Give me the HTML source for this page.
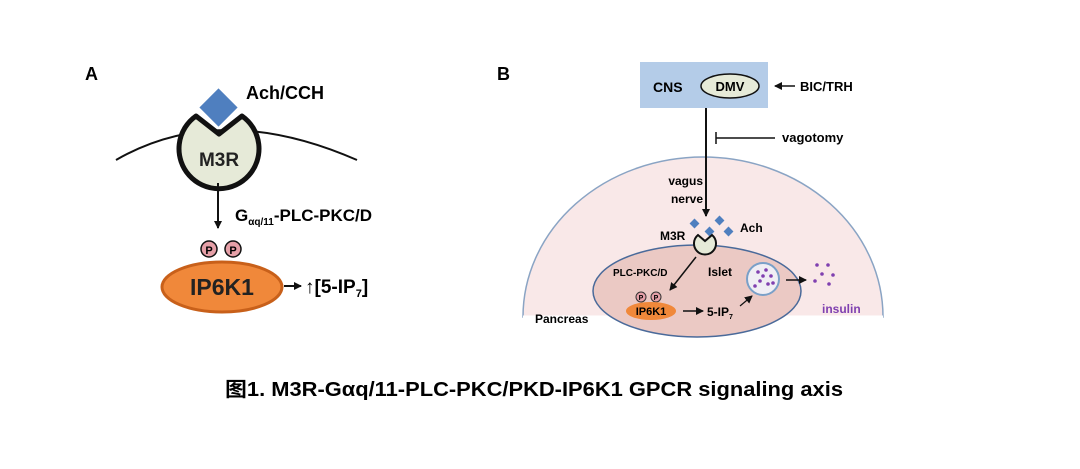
<!DOCTYPE html>
<html><head><meta charset="utf-8"><style>
html,body{margin:0;padding:0;background:#fff}
svg{display:block}
text{font-family:"Liberation Sans","Noto Sans CJK SC",sans-serif;font-weight:bold}
</style></head><body>
<svg width="1080" height="469" viewBox="0 0 1080 469" xmlns="http://www.w3.org/2000/svg">
<defs>
<marker id="ar" markerWidth="8" markerHeight="8" refX="7" refY="4" orient="auto" markerUnits="userSpaceOnUse"><path d="M0,0 L8,4 L0,8 z" fill="#111"/></marker>
</defs>
<!-- Panel A -->
<text x="85" y="80" font-size="18">A</text>
<path d="M116,160 Q220,100 357,160" fill="none" stroke="#111" stroke-width="2"/>
<path d="M196,116 A40,40 0 1 0 242,116 L219,134 Z" fill="#e6ead8" stroke="#111" stroke-width="5" stroke-linejoin="round"/>
<rect x="205" y="94" width="27" height="27" fill="#4f7fbf" transform="rotate(45 218.5 107.5)"/>
<text x="219" y="166" font-size="19" text-anchor="middle" fill="#222">M3R</text>
<text x="246" y="99" font-size="18">Ach/CCH</text>
<line x1="218" y1="183" x2="218" y2="228" stroke="#111" stroke-width="2" marker-end="url(#ar)"/>
<text x="235" y="221" font-size="17">G<tspan font-size="10" dy="4">αq/11</tspan><tspan dy="-4">-PLC-PKC/D</tspan></text>
<ellipse cx="222" cy="287" rx="60" ry="25" fill="#f0883a" stroke="#c8601a" stroke-width="3"/>
<circle cx="209" cy="249" r="8" fill="#e6a0a8" stroke="#111" stroke-width="1.5"/>
<circle cx="233" cy="249" r="8" fill="#e6a0a8" stroke="#111" stroke-width="1.5"/>
<text x="209" y="254" font-size="11" text-anchor="middle">P</text>
<text x="233" y="254" font-size="11" text-anchor="middle">P</text>
<text x="222" y="295" font-size="23" text-anchor="middle" fill="#222">IP6K1</text>
<line x1="284" y1="286" x2="301" y2="286" stroke="#111" stroke-width="2" marker-end="url(#ar)"/>
<text x="305" y="293" font-size="19">↑[5-IP<tspan font-size="11" dy="4">7</tspan><tspan dy="-4">]</tspan></text>
<!-- Panel B -->
<text x="497" y="80" font-size="18">B</text>
<path d="M523,317 A180,160 0 0 1 883,317 Z" fill="#f9e8e8" stroke="#8aa4c4" stroke-width="1.5"/>
<line x1="523" y1="317" x2="883" y2="317" stroke="#fff" stroke-width="3"/>
<rect x="640" y="62" width="128" height="46" fill="#b4cce8"/>
<text x="653" y="92" font-size="14">CNS</text>
<ellipse cx="730" cy="86" rx="29" ry="12" fill="#e6ead8" stroke="#111" stroke-width="1.5"/>
<text x="730" y="91" font-size="13" text-anchor="middle">DMV</text>
<line x1="795" y1="86" x2="775" y2="86" stroke="#111" stroke-width="1.5" marker-end="url(#ar)"/>
<text x="800" y="91" font-size="13">BIC/TRH</text>
<line x1="716" y1="138" x2="775" y2="138" stroke="#111" stroke-width="1.5"/>
<line x1="716" y1="132" x2="716" y2="144" stroke="#111" stroke-width="1.5"/>
<text x="782" y="142" font-size="13">vagotomy</text>
<ellipse cx="697" cy="291" rx="104" ry="46" fill="#ebc9c4" stroke="#4a6a9a" stroke-width="1.5"/>
<line x1="706" y1="108" x2="706" y2="216" stroke="#111" stroke-width="2" marker-end="url(#ar)"/>
<text x="703" y="185" font-size="12" text-anchor="end">vagus</text>
<text x="703" y="203" font-size="12" text-anchor="end">nerve</text>
<g fill="#4f7fbf">
<rect x="691" y="220" width="7" height="7" transform="rotate(45 694.5 223.5)"/>
<rect x="716" y="217" width="7" height="7" transform="rotate(45 719.5 220.5)"/>
<rect x="706" y="228" width="7" height="7" transform="rotate(45 709.5 231.5)"/>
<rect x="725" y="228" width="7" height="7" transform="rotate(45 728.5 231.5)"/>
</g>
<path d="M698,235 A11,11 0 1 0 712,235 L705,241 Z" fill="#e6ead8" stroke="#111" stroke-width="2"/>
<text x="740" y="232" font-size="12">Ach</text>
<text x="660" y="240" font-size="12">M3R</text>
<text x="613" y="276" font-size="10">PLC-PKC/D</text>
<text x="708" y="276" font-size="12">Islet</text>
<line x1="696" y1="257" x2="670" y2="290" stroke="#111" stroke-width="1.5" marker-end="url(#ar)"/>
<circle cx="641" cy="297" r="5" fill="#e6a0a8" stroke="#333"/>
<circle cx="656" cy="297" r="5" fill="#e6a0a8" stroke="#333"/>
<text x="641" y="300" font-size="7" text-anchor="middle">P</text>
<text x="656" y="300" font-size="7" text-anchor="middle">P</text>
<ellipse cx="651" cy="311" rx="25" ry="9" fill="#f0883a"/>
<text x="651" y="315" font-size="11" text-anchor="middle">IP6K1</text>
<line x1="683" y1="311" x2="703" y2="311" stroke="#111" stroke-width="1.5" marker-end="url(#ar)"/>
<text x="707" y="316" font-size="12">5-IP<tspan font-size="7" dy="3">7</tspan></text>
<line x1="740" y1="306" x2="752" y2="296" stroke="#111" stroke-width="1.2" marker-end="url(#ar)"/>
<circle cx="763" cy="279" r="16" fill="#f0eef4" stroke="#7aa0c8" stroke-width="2"/>
<g fill="#8040b0">
<circle cx="758" cy="272" r="1.8"/><circle cx="766" cy="270" r="1.8"/><circle cx="771" cy="276" r="1.8"/><circle cx="760" cy="281" r="1.8"/><circle cx="768" cy="284" r="1.8"/><circle cx="755" cy="286" r="1.8"/><circle cx="773" cy="283" r="1.8"/><circle cx="763" cy="276" r="1.8"/>
<circle cx="817" cy="265" r="1.8"/><circle cx="828" cy="265" r="1.8"/><circle cx="822" cy="274" r="1.8"/><circle cx="833" cy="275" r="1.8"/><circle cx="815" cy="281" r="1.8"/><circle cx="829" cy="284" r="1.8"/>
</g>
<line x1="786" y1="280" x2="806" y2="280" stroke="#111" stroke-width="1.5" marker-end="url(#ar)"/>
<text x="822" y="313" font-size="12" fill="#8040b0">insulin</text>
<text x="535" y="323" font-size="12">Pancreas</text>
<!-- caption -->
<text x="225" y="396" font-size="20" textLength="618" lengthAdjust="spacingAndGlyphs">图1. M3R-Gαq/11-PLC-PKC/PKD-IP6K1 GPCR signaling axis</text>
</svg>
</body></html>
